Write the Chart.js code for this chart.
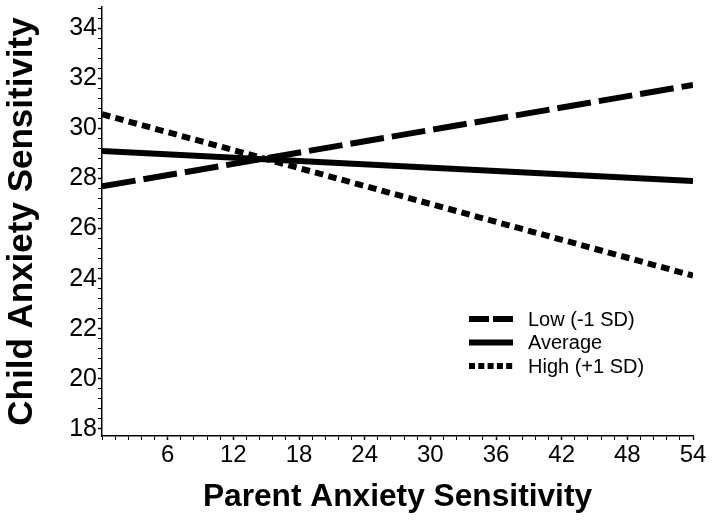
<!DOCTYPE html>
<html><head><meta charset="utf-8">
<script src="https://cdn.jsdelivr.net/npm/chart.js@4/dist/chart.umd.min.js"></script>
<style>html,body{margin:0;padding:0;background:#fff;}canvas{display:block;}</style>
</head><body>
<canvas id="c" width="714" height="525"></canvas>
<script>
// ---- data ----
const xValues = [0, 54];
const lowValues = [27.68, 31.73];
const averageValues = [29.09, 27.90];
const highValues = [30.56, 24.12];
const seriesLabels = ['Low (-1 SD)', 'Average', 'High (+1 SD)'];
const xTickLabels = [6, 12, 18, 24, 30, 36, 42, 48, 54];
const yTickLabels = [18, 20, 22, 24, 26, 28, 30, 32, 34];
const xTitle = 'Parent Anxiety Sensitivity';
const yTitle = 'Child Anxiety Sensitivity';

// ---- styles ----
const FONT = '"Liberation Sans", Arial, sans-serif';
const xRange = {min: 0, max: 54, minorStep: 1.2};
const yRange = {min: 17.72, max: 34.84, minorStep: 0.4};
const lineDashes = [[34, 8], [], [8.5, 5.3]];
const legendDashes = [[20, 4], [], [6, 3.3]];

function pts(vals){ return xValues.map((x,i)=>({x:x, y:vals[i]})); }
function isMajor(list, v){ return list.some(m => Math.abs(m - v) < 1e-6); }
function buildTicks(scale, majors, range){
  const out = majors.map(v => ({value: v}));
  const n = Math.floor((range.max - range.min) / range.minorStep) + 2;
  const start = Math.ceil(range.min / range.minorStep);
  for (let k = start; k < start + n; k++){
    const v = Math.round(k * range.minorStep * 1000) / 1000;
    if (v < range.min || v > range.max) continue;
    if (isMajor(majors, v)) continue;
    out.push({value: v});
  }
  out.sort((a,b)=>a.value-b.value);
  scale.ticks = out;
}

const innerLegend = {
  id: 'innerLegend',
  afterDraw(chart){
    const ctx = chart.ctx;
    ctx.save();
    chart.data.datasets.forEach((ds, i) => {
      const y = 319 + i * 23.5;
      ctx.beginPath();
      ctx.setLineDash(legendDashes[i]);
      ctx.lineWidth = 6;
      ctx.lineCap = 'butt';
      ctx.strokeStyle = '#000';
      ctx.moveTo(469, y); ctx.lineTo(513, y);
      ctx.stroke();
      ctx.setLineDash([]);
      ctx.fillStyle = '#000';
      ctx.font = '20px ' + FONT;
      ctx.textBaseline = 'middle';
      ctx.textAlign = 'left';
      ctx.fillText(ds.label, 528, y + 1);
    });
    ctx.restore();
  }
};

const mk = (label, vals, i) => ({
  label: label, data: pts(vals), borderColor: '#000', backgroundColor: '#000',
  borderWidth: 6, borderDash: lineDashes[i], borderCapStyle: 'butt',
  pointRadius: 0, tension: 0, fill: false
});

new Chart(document.getElementById('c'), {
  type: 'line',
  data: { datasets: [
    mk(seriesLabels[0], lowValues, 0),
    mk(seriesLabels[1], averageValues, 1),
    mk(seriesLabels[2], highValues, 2)
  ]},
  options: {
    responsive: false, animation: false, devicePixelRatio: 1,
    layout: { padding: {left: 0, right: 21, top: 7, bottom: 0} },
    plugins: { legend: {display: false}, tooltip: {enabled: false} },
    scales: {
      x: {
        type: 'linear', min: xRange.min, max: xRange.max,
        afterBuildTicks: s => buildTicks(s, xTickLabels, xRange),
        afterFit: s => { s.height = 89; s.paddingLeft = 0; s.paddingRight = 0; },
        border: {color: '#000', width: 1.5},
        grid: { drawOnChartArea: false, tickLength: 4, tickColor: '#000',
                tickWidth: c => (c.tick && isMajor(xTickLabels, c.tick.value)) ? 1.5 : 1 },
        ticks: { autoSkip: false, maxRotation: 0, padding: 1, color: '#000',
                 font: {family: FONT, size: 24},
                 callback: v => isMajor(xTickLabels, v) ? String(Math.round(v)) : '' },
        title: { display: true, text: xTitle, color: '#000',
                 font: {family: FONT, size: 31.7, weight: 'bold', lineHeight: 1},
                 padding: {top: 0, bottom: 12} }
      },
      y: {
        type: 'linear', min: yRange.min, max: yRange.max,
        afterBuildTicks: s => buildTicks(s, yTickLabels, yRange),
        afterFit: s => { s.width = 102; s.paddingTop = 0; s.paddingBottom = 0; },
        border: {color: '#000', width: 1.5},
        grid: { drawOnChartArea: false, tickLength: 4, tickColor: '#000',
                tickWidth: c => (c.tick && isMajor(yTickLabels, c.tick.value)) ? 1.5 : 1 },
        ticks: { autoSkip: false, padding: 1, color: '#000',
                 font: {family: FONT, size: 25},
                 callback: v => isMajor(yTickLabels, v) ? String(Math.round(v)) : '' },
        title: { display: true, text: yTitle, color: '#000',
                 font: {family: FONT, size: 35, weight: 'bold', lineHeight: 1},
                 padding: {top: 5, bottom: 0} }
      }
    }
  },
  plugins: [innerLegend]
});
</script>
</body></html>
